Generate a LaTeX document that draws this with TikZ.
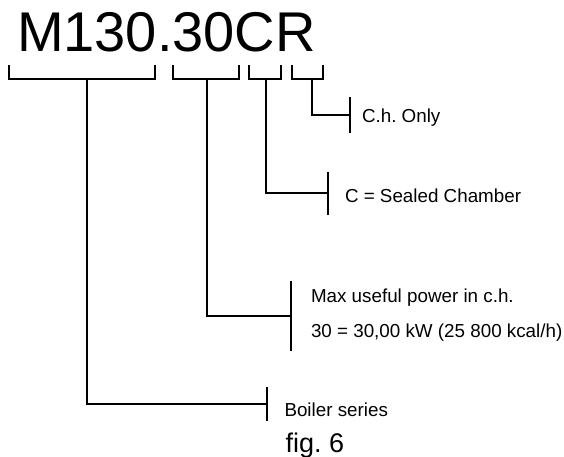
\documentclass[tikz,border=0pt]{standalone}
\usepackage{fontspec}
\setmainfont{Liberation Sans}
\usetikzlibrary{positioning}
\frenchspacing

\begin{document}
\begin{tikzpicture}[
  x=1pt, y=-1pt,
  every node/.style={inner sep=0pt, outer sep=0pt},
  code/.style={anchor=base west, font=\fontsize{56}{60}\selectfont},
  lbl/.style={anchor=base west, font=\fontsize{18.8}{22}\selectfont},
  caption/.style={anchor=base west, font=\fontsize{27}{30}\selectfont},
  brace/.style={line width=1.8pt},
  link/.style={line width=1.8pt},
]
  \useasboundingbox (0,0) rectangle (564,457);

  \node[code] (model) at (17,52) {M130.30CR};

  % brackets under the code
  \draw[brace] (9,65) |- (155,79) -- (155,65);
  \draw[brace] (173,65) |- (239,79) -- (239,65);
  \draw[brace] (249,65) |- (281,79) -- (281,65);
  \draw[brace] (292,65) |- (323,79) -- (323,65);

  \coordinate (series-s) at (87,79);
  \coordinate (power-s) at (207,79);
  \coordinate (chamber-s) at (266,79);
  \coordinate (only-s) at (312,79);

  % tick ends
  \coordinate (only-t) at (350,115);
  \coordinate (chamber-t) at (328,193);
  \coordinate (power-t) at (291,316);
  \coordinate (series-t) at (267,404);

  \draw[link] (only-s) |- (only-t);
  \draw[link] (chamber-s) |- (chamber-t);
  \draw[link] (power-s) |- (power-t);
  \draw[link] (series-s) |- (series-t);

  \draw[brace] ([yshift=18pt]only-t) -- ([yshift=-18pt]only-t);
  \draw[brace] ([yshift=21.5pt]chamber-t) -- ([yshift=-21.5pt]chamber-t);
  \draw[brace] ([yshift=35pt]power-t) -- ([yshift=-35pt]power-t);
  \draw[brace] ([yshift=17pt]series-t) -- ([yshift=-17pt]series-t);

  % labels
  \node[lbl] (only) at (362,123) {C.h. Only};
  \node[lbl] (chamber) at (345,202) {C = Sealed Chamber};
  \node[lbl] (power) at (311,302) {Max useful power in c.h.};
  \node[lbl] (kw) at (311,337) {30 = 30,00 kW (25 800 kcal/h)};
  \node[lbl] (series) at (284.5,416) {Boiler series};
  \node[caption] (fig) at (285.5,452) {fig. 6};

\end{tikzpicture}
\end{document}
